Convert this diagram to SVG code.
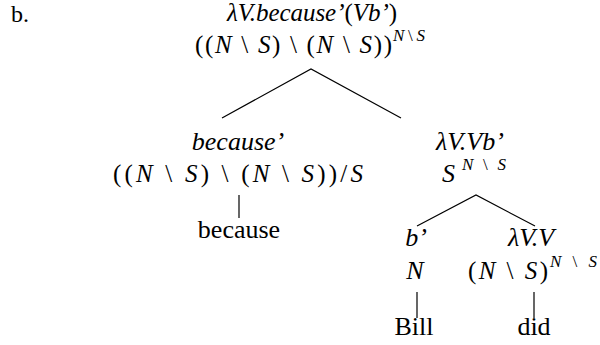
<svg xmlns="http://www.w3.org/2000/svg" width="600" height="345" viewBox="0 0 600 345" font-family="Liberation Serif, Times New Roman, serif">
<rect width="600" height="345" fill="#fff"/>
<text x="11" y="22" font-family="Liberation Serif, serif" font-size="24">b.</text>
<g id="root">
<text x="227" y="21" font-family="Liberation Serif, serif" font-size="25" textLength="170" lengthAdjust="spacing"><tspan font-style="italic">λV.because’</tspan>(<tspan font-style="italic">Vb’</tspan>)</text>
<text x="195" y="53" font-family="Liberation Serif, serif" font-size="25" textLength="197" lengthAdjust="spacing">((<tspan font-style="italic">N</tspan> \ <tspan font-style="italic">S</tspan>) \ (<tspan font-style="italic">N</tspan> \ <tspan font-style="italic">S</tspan>))</text>
<text x="393" y="41" font-family="Liberation Serif, serif" font-size="17" textLength="32" lengthAdjust="spacing"><tspan font-style="italic">N</tspan>\<tspan font-style="italic">S</tspan></text>
</g>
<g id="because-sem">
<text x="238" y="150" text-anchor="middle" font-style="italic" font-family="Liberation Serif, serif" font-size="26">because’</text>
<text x="113" y="182" font-family="Liberation Serif, serif" font-size="25" textLength="250" lengthAdjust="spacing">((<tspan font-style="italic">N</tspan> \ <tspan font-style="italic">S</tspan>) \ (<tspan font-style="italic">N</tspan> \ <tspan font-style="italic">S</tspan>))/<tspan font-style="italic">S</tspan></text>
</g>
<g id="because-word">
<text x="239" y="238" text-anchor="middle" font-family="Liberation Serif, serif" font-size="26">because</text>
</g>
<g id="vp">
<text x="470" y="150" text-anchor="middle" font-style="italic" font-family="Liberation Serif, serif" font-size="26">λV.Vb’</text>
<text x="442" y="182" font-style="italic" font-family="Liberation Serif, serif" font-size="26">S</text>
<text x="462" y="170" font-family="Liberation Serif, serif" font-size="17" textLength="44" lengthAdjust="spacing"><tspan font-style="italic">N</tspan>\<tspan font-style="italic">S</tspan></text>
</g>
<g id="b">
<text x="416" y="246" text-anchor="middle" font-style="italic" font-family="Liberation Serif, serif" font-size="26">b’</text>
<text x="415" y="279" text-anchor="middle" font-style="italic" font-family="Liberation Serif, serif" font-size="26">N</text>
</g>
<g id="did-sem">
<text x="531" y="246" text-anchor="middle" font-style="italic" font-family="Liberation Serif, serif" font-size="26">λV.V</text>
<text x="468" y="279" font-family="Liberation Serif, serif" font-size="25" textLength="80" lengthAdjust="spacing">(<tspan font-style="italic">N</tspan> \ <tspan font-style="italic">S</tspan>)</text>
<text x="550" y="267" font-family="Liberation Serif, serif" font-size="17" textLength="47" lengthAdjust="spacing"><tspan font-style="italic">N</tspan>\<tspan font-style="italic">S</tspan></text>
</g>
<g id="bill">
<text x="414" y="335" text-anchor="middle" font-family="Liberation Serif, serif" font-size="26">Bill</text>
</g>
<g id="did">
<text x="534" y="335" text-anchor="middle" font-family="Liberation Serif, serif" font-size="26">did</text>
</g>
<g id="connectors" stroke="#000" stroke-width="1.2" fill="none">
<path d="M222,118 L311,69 L401,118"/>
<path d="M239,195 V218"/>
<path d="M417,226 L476,195 L535,226"/>
<path d="M417,292 V318"/>
<path d="M534,292 V318"/>
</g>
</svg>
